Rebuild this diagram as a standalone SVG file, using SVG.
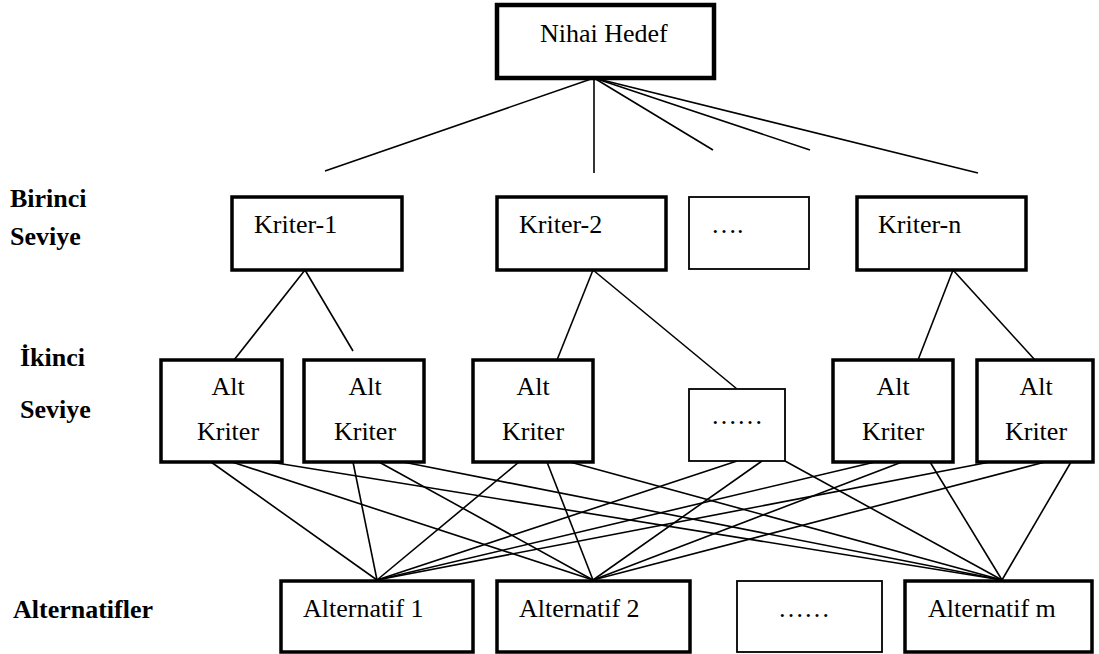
<svg xmlns="http://www.w3.org/2000/svg" width="1099" height="654" viewBox="0 0 1099 654">
<style>
text{font-family:'Liberation Serif','DejaVu Serif','Times New Roman',serif;font-size:26px;fill:#000}
.lbl{font-weight:bold}
.mid{text-anchor:middle}
.box{fill:#fff;stroke:#000;stroke-width:3.5}
.thin{fill:#fff;stroke:#000;stroke-width:1.8}
.top{fill:#fff;stroke:#000;stroke-width:4.5}
#edges line{stroke:#000;stroke-width:1.6}
</style>
<rect width="1099" height="654" fill="#fff"/>
<g id="edges">
<line x1="594" y1="78" x2="325" y2="171"/>
<line x1="594" y1="78" x2="594" y2="173"/>
<line x1="594" y1="78" x2="713" y2="150"/>
<line x1="594" y1="78" x2="810" y2="150"/>
<line x1="594" y1="78" x2="978" y2="173"/>
<line x1="305" y1="270" x2="234" y2="360"/>
<line x1="305" y1="270" x2="353" y2="351"/>
<line x1="593" y1="270" x2="557" y2="360"/>
<line x1="593" y1="270" x2="737" y2="389"/>
<line x1="953" y1="270" x2="918" y2="360"/>
<line x1="953" y1="270" x2="1035" y2="360"/>
<line x1="211" y1="462" x2="377" y2="580"/>
<line x1="232" y1="462" x2="593" y2="580"/>
<line x1="270" y1="462" x2="1002" y2="580"/>
<line x1="353" y1="462" x2="377" y2="580"/>
<line x1="379" y1="462" x2="593" y2="580"/>
<line x1="403" y1="462" x2="1002" y2="580"/>
<line x1="519" y1="462" x2="377" y2="580"/>
<line x1="547" y1="462" x2="593" y2="580"/>
<line x1="570" y1="462" x2="1002" y2="580"/>
<line x1="737" y1="461" x2="377" y2="580"/>
<line x1="762" y1="461" x2="593" y2="580"/>
<line x1="785" y1="461" x2="1002" y2="580"/>
<line x1="875" y1="462" x2="377" y2="580"/>
<line x1="902" y1="462" x2="593" y2="580"/>
<line x1="930" y1="462" x2="1002" y2="580"/>
<line x1="990" y1="462" x2="377" y2="580"/>
<line x1="1045" y1="462" x2="593" y2="580"/>
<line x1="1071" y1="462" x2="1002" y2="580"/>
</g>
<g id="goal"><rect class="top" x="497" y="5" width="217" height="73"/><text x="540" y="42">Nihai Hedef</text></g>
<g id="level-labels">
<text class="lbl" x="10" y="207">Birinci</text>
<text class="lbl" x="10" y="245">Seviye</text>
<text class="lbl" x="20" y="366">İkinci</text>
<text class="lbl" x="20" y="418">Seviye</text>
<text class="lbl" x="13" y="618">Alternatifler</text>
</g>
<g id="k1"><rect class="box" x="232" y="197" width="170" height="73"/><text x="254" y="233">Kriter-1</text></g>
<g id="k2"><rect class="box" x="497" y="197" width="169" height="73"/><text x="519" y="233">Kriter-2</text></g>
<g id="kdots"><rect class="thin" x="689" y="197" width="120" height="72"/><text x="711" y="233">….</text></g>
<g id="kn"><rect class="box" x="857" y="197" width="169" height="73"/><text x="878" y="233">Kriter-n</text></g>
<g id="ak1"><rect class="box" x="161" y="360" width="121" height="102"/><text class="mid" x="228" y="395">Alt</text><text class="mid" x="228" y="440">Kriter</text></g>
<g id="ak2"><rect class="box" x="304" y="360" width="120" height="102"/><text class="mid" x="365" y="395">Alt</text><text class="mid" x="365" y="440">Kriter</text></g>
<g id="ak3"><rect class="box" x="473" y="360" width="120" height="102"/><text class="mid" x="533" y="395">Alt</text><text class="mid" x="533" y="440">Kriter</text></g>
<g id="akdots"><rect class="thin" x="689" y="389" width="96" height="72"/><text class="mid" x="737" y="424">……</text></g>
<g id="ak5"><rect class="box" x="833" y="360" width="120" height="102"/><text class="mid" x="893" y="395">Alt</text><text class="mid" x="893" y="440">Kriter</text></g>
<g id="ak6"><rect class="box" x="977" y="360" width="116" height="102"/><text class="mid" x="1036" y="395">Alt</text><text class="mid" x="1036" y="440">Kriter</text></g>
<g id="a1"><rect class="box" x="281" y="581" width="192" height="71"/><text x="303" y="617">Alternatif 1</text></g>
<g id="a2"><rect class="box" x="497" y="581" width="193" height="71"/><text x="519" y="617">Alternatif 2</text></g>
<g id="adots"><rect class="thin" x="737" y="581" width="145" height="71"/><text x="778" y="617">……</text></g>
<g id="am"><rect class="box" x="905" y="581" width="187" height="71"/><text x="928" y="617">Alternatif m</text></g>
</svg>
